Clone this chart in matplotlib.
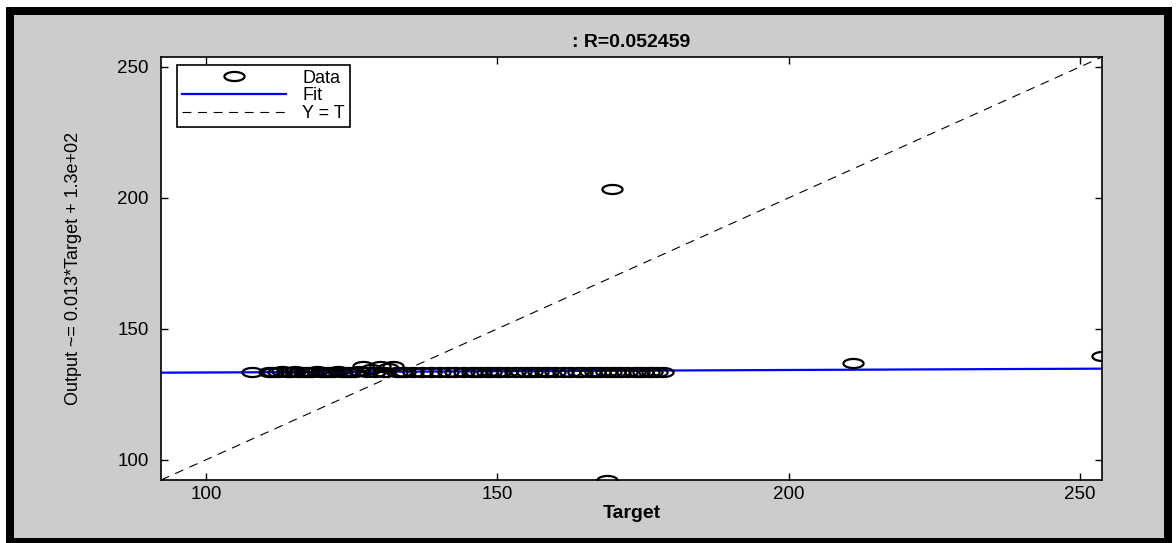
import numpy as np
import matplotlib
matplotlib.use("Agg")
import matplotlib.pyplot as plt
from matplotlib.patches import Rectangle
from matplotlib.path import Path

plt.rcParams["font.family"] = ["Liberation Sans", "DejaVu Sans"]

# regression data
target = [108.0, 110.8, 111.6, 112.4, 113.1, 113.9, 114.6, 115.3, 116.0, 116.8,
          117.5, 118.2, 119.0, 119.7, 120.4, 121.1, 121.9, 122.6, 123.3, 124.1,
          124.8, 125.5, 126.2, 126.9, 127.7, 128.4, 129.1, 129.9, 130.6, 131.3,
          132.1, 132.8, 133.5, 134.2,
          135.6, 137.1, 138.7, 140.2, 141.5, 142.7, 144.3, 145.6, 146.4,
          147.3, 148.3, 148.9, 150.0, 150.5, 151.6, 153.0, 154.1, 155.2, 155.9,
          157.0, 158.2, 158.7, 160.0, 161.3, 162.5, 163.8, 164.6, 165.9, 166.8,
          167.6, 168.6, 169.5, 170.3, 171.0, 172.3, 173.6, 174.4, 175.0, 176.0,
          176.5, 177.4, 178.4,
          169.7, 168.8, 211.0, 253.8]
output = [133.6, 133.4, 133.7, 133.5, 133.8, 133.4, 133.6, 133.8, 133.5, 133.7,
          133.4, 133.6, 133.8, 133.5, 133.7, 133.4, 133.6, 133.8, 133.5, 133.7,
          133.4, 133.6, 133.8, 136.0, 133.7, 134.8, 133.6, 135.7, 133.7, 134.9,
          136.0, 133.6, 133.5, 133.6,
          133.6, 133.5, 133.6, 133.5, 133.6, 133.5, 133.6, 133.5, 133.6,
          133.6, 133.4, 133.7, 133.5, 133.6, 133.4, 133.7, 133.5, 133.6, 133.4,
          133.7, 133.5, 133.6, 133.4, 133.7, 133.5, 133.6, 133.4, 133.7, 133.5,
          133.6, 133.4, 133.7, 133.5, 133.6, 133.4, 133.7, 133.5, 133.6, 133.4,
          133.7, 133.5, 133.6,
          203.4, 92.3, 136.8, 139.5]

fit_slope = 0.0095
fit_intercept = 132.40

title_text = ": R=0.052459"
xlabel_text = "Target"
ylabel_text = "Output ~= 0.013*Target + 1.3e+02"
ticks = [100, 150, 200, 250]

W, H = 1176, 543
fig = plt.figure(figsize=(W / 100, H / 100), dpi=100)
fig.patch.set_facecolor("white")

# MATLAB-style grey figure with black frame
fig.add_artist(Rectangle((6 / W, -5 / H), 1166 / W, 541 / H, transform=fig.transFigure,
                         facecolor="black", edgecolor="none", zorder=-10))
fig.add_artist(Rectangle((14 / W, 5 / H), 1150 / W, 523 / H, transform=fig.transFigure,
                         facecolor="#cccccc", edgecolor="none", zorder=-9))

ax = fig.add_axes([161 / W, (H - 480) / H, (1102 - 161) / W, (480 - 57) / H])
ax.set_facecolor("white")

lim = [min(min(target), min(output)), max(max(target), max(output))]

# flattened circle marker (the original picture is stretched sideways)
t = np.linspace(0, 2 * np.pi, 60)
ellipse = Path(np.column_stack([np.cos(t), 0.45 * np.sin(t)]), closed=True)

ax.plot(target, output, linestyle="", marker=ellipse, markersize=14.5,
        markerfacecolor="none", markeredgecolor="black", markeredgewidth=1.6,
        label="Data", zorder=3)
fit_y = [fit_intercept + fit_slope * v for v in lim]
ax.plot(lim, fit_y, color="#0000ff", linewidth=1.6, label="Fit", zorder=2)
ax.plot(lim, lim, color="black", linewidth=0.8, dashes=(8, 6), label="Y = T", zorder=2)

ax.set_xlim(lim)
ax.set_ylim(lim)
ax.set_xticks(ticks)
ax.set_yticks(ticks)
ax.tick_params(direction="in", length=5, width=1, top=True, right=True,
               labelsize=13.5, colors="black")
ax.tick_params(axis="x", pad=4)
ax.tick_params(axis="y", pad=9)
for s in ax.spines.values():
    s.set_linewidth(1.2)

ax.set_title(title_text, fontsize=14, fontweight="bold", pad=7)
ax.set_xlabel(xlabel_text, fontsize=14, fontweight="bold")
ax.xaxis.set_label_coords(0.5, -0.058)
ax.xaxis.label.set_va("top")
ax.set_ylabel(ylabel_text, fontsize=13)
ax.yaxis.set_label_coords(-0.084, 0.5)

leg = ax.legend(loc="upper left", bbox_to_anchor=(0.017, 0.981), borderaxespad=0,
                fontsize=13, numpoints=1, handlelength=5.8, handletextpad=0.9,
                labelspacing=0.05, borderpad=0.25, fancybox=False, framealpha=1)
leg.get_frame().set_edgecolor("black")
leg.get_frame().set_linewidth(1.2)

fig.savefig("out.png", dpi=100)
